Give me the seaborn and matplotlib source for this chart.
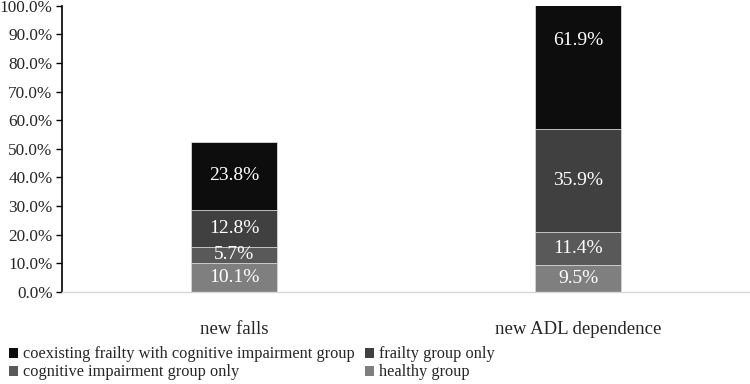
import pandas as pd
import numpy as np
import matplotlib.pyplot as plt
import seaborn as sns
from matplotlib.patches import Patch

# data
outcomes = ['new falls', 'new ADL dependence']
healthy = [10.1, 9.5]
cognitive = [5.7, 11.4]
frailty = [12.8, 35.9]
coexisting = [23.8, 61.9]

groups = ['healthy group', 'cognitive impairment group only', 'frailty group only',
          'coexisting frailty with cognitive impairment group']
colors = ['#7f7f7f', '#595959', '#404040', '#0d0d0d']

df = pd.DataFrame({'outcome': outcomes, 'healthy group': healthy,
                   'cognitive impairment group only': cognitive,
                   'frailty group only': frailty,
                   'coexisting frailty with cognitive impairment group': coexisting})
cum = df[groups].cumsum(axis=1)

sns.set_style('white')
plt.rcParams['font.family'] = ['Liberation Serif', 'DejaVu Serif']

fig = plt.figure(figsize=(7.5, 3.84), dpi=100)
ax = fig.add_axes([0.083, 0.24, 0.917, 0.745])

# stacked bars: draw cumulative totals from top layer down
for g, c in zip(groups[::-1], colors[::-1]):
    sns.barplot(x=df['outcome'], y=cum[g], color=c, width=0.25, ax=ax,
                edgecolor='#d9d9d9', linewidth=0.6)

# labels in segment centers
for i in range(len(outcomes)):
    for g in groups:
        top = cum.loc[i, g]
        val = df.loc[i, g]
        ax.text(i, top - val / 2, f'{val:.1f}%', ha='center', va='center',
                color='white', fontsize=14)

ax.set_ylim(0, 100)
ax.set_yticks(np.arange(0, 101, 10))
ax.set_yticklabels([f'{v:.1f}%' for v in np.arange(0, 101, 10)], fontsize=12.4)
ax.set_xlim(-0.5, 1.5)
ax.set_xlabel('')
ax.set_ylabel('')
ax.tick_params(axis='x', labelsize=13.5, length=0, pad=21)
ax.tick_params(axis='y', left=True, length=4, width=1, color='black', pad=3)
for s in ['top', 'right']:
    ax.spines[s].set_visible(False)
ax.spines['left'].set_color('black')
ax.spines['left'].set_linewidth(1.2)
ax.spines['bottom'].set_color('#d9d9d9')
ax.spines['bottom'].set_linewidth(1)

order = [3, 1, 2, 0]
handles = [Patch(facecolor=colors[k], edgecolor='none') for k in order]
labels = [groups[k] for k in order]
fig.legend(handles, labels, ncol=2, loc='lower left', bbox_to_anchor=(-0.008, -0.029),
           frameon=False, fontsize=11.8, handlelength=0.55, handleheight=0.55,
           handletextpad=0.3, columnspacing=0.65, labelspacing=0.12)

plt.savefig('out.png', dpi=100)
